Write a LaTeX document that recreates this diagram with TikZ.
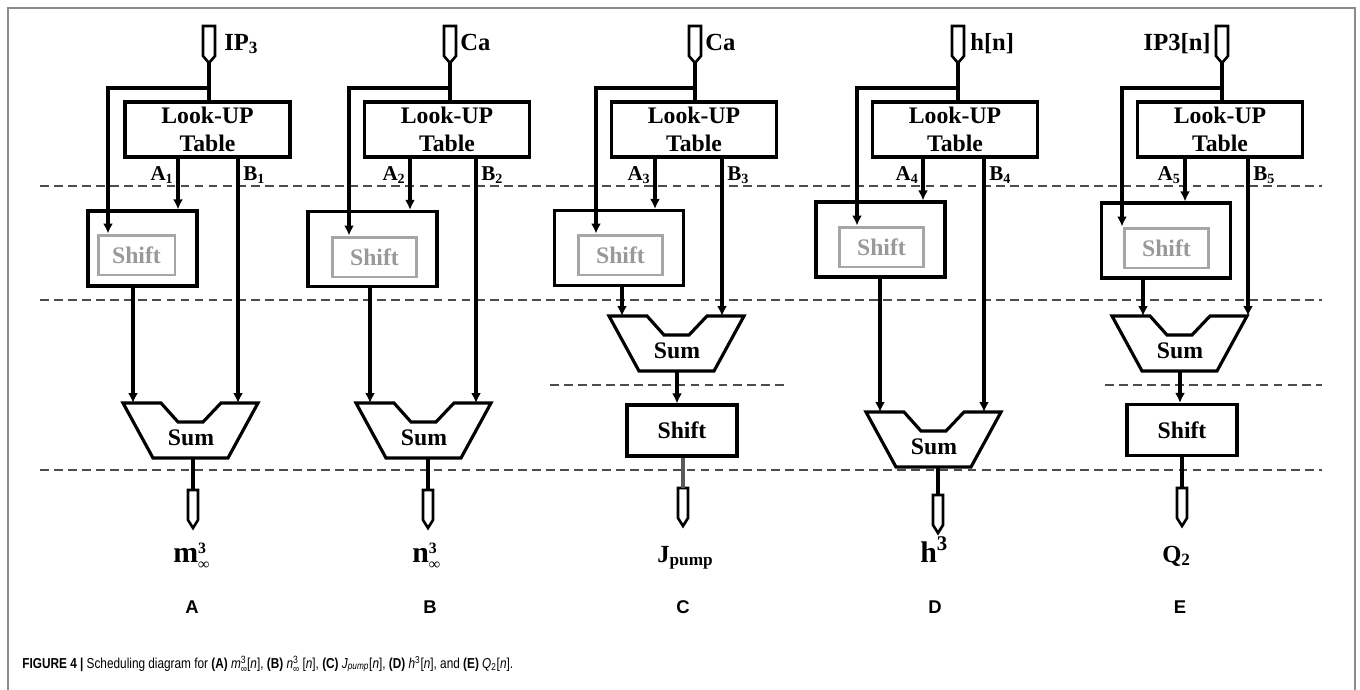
\documentclass[tikz,border=0pt]{standalone}
\usepackage{fontspec}
\setmainfont{Liberation Serif}
\newfontfamily\capfont{Liberation Sans}
\usetikzlibrary{arrows.meta}

\newcommand\boxfont{\bfseries\fontsize{13.5}{16}\selectfont}
\newcommand\tagfont{\bfseries\fontsize{12}{14}\selectfont}
\newcommand\sigfont{\bfseries\fontsize{14}{16}\selectfont}
% stacked 3 over infinity, big label and caption sizes
\newcommand\bigstk{\raisebox{-4.4pt}{\fontsize{9}{9}\selectfont
  \vbox{\offinterlineskip\hbox{3}\kern5pt\hbox{∞}}}}
\newcommand\capstk{\raisebox{-2.6pt}{\fontsize{6}{6}\selectfont
  \vbox{\offinterlineskip\hbox{3}\kern2.2pt\hbox{∞}}}}

\tikzset{
  wire/.style={line width=1.9pt, black},
  arr/.style={wire, -{Latex[length=0.2cm, width=0.2cm]}},
  lut/.style={draw, line width=1.8pt, minimum width=3.3cm, minimum height=1.1cm,
    inner sep=0pt, align=center, font=\boxfont},
  shiftbox/.style={draw, line width=1.8pt, minimum width=2.58cm, minimum height=1.5cm},
  ghostbox/.style={draw=black!35, line width=1.7pt, text=black!40,
    minimum width=1.68cm, minimum height=0.8cm, inner sep=0pt, font=\boxfont},
  lowshift/.style={draw, line width=1.8pt, minimum width=2.2cm, minimum height=1.02cm,
    inner sep=0pt, font=\boxfont},
  cutline/.style={draw=black!70, line width=0.9pt, dash pattern=on 5pt off 3pt},
  frame/.style={draw=black!45, line width=1.1pt},
  tag/.style={inner sep=0pt, font=\tagfont},
  sig/.style={inner sep=0pt, font=\sigfont},
  result/.style={inner sep=0pt, font=\bfseries\fontsize{17}{19}\selectfont},
  panel/.style={inner sep=0pt, font=\capfont\bfseries\fontsize{10.5}{12}\selectfont},
  inpin/.pic={\draw[line width=1.5pt] (-6,0) -- (6,0) -- (6,30) -- (0,37) -- (-6,30) -- cycle;},
  outpin/.pic={\draw[line width=1.5pt] (-5,0) -- (5,0) -- (5,30) -- (0,38) -- (-5,30) -- cycle;},
  adder/.pic={
    \draw[line width=1.8pt] (-68,0) -- (-30,0) -- (-13,19) -- (12,19) -- (30,0) -- (67,0)
      -- (37,55) -- (-38,55) -- cycle;
    \coordinate (-top) at (0,0);
    \coordinate (-bot) at (0,55);
    \node[inner sep=0pt, font=\boxfont] (-lbl) at (0,35) {Sum};
  }
}

\begin{document}
\begin{tikzpicture}[x=0.02cm, y=-0.02cm]
  \useasboundingbox (0,0) rectangle (1360,690);
  \draw[frame] (8,690) -- (8,8) -- (1355,8) -- (1355,690);

  % pipeline stages
  \foreach \y in {186,300,470}
    \draw[cutline] (40,\y) -- (1322,\y);
  \draw[cutline] (550,385) -- (788,385);
  \draw[cutline] (1105,385) -- (1322,385);

  % (A)
  \pic at (209,26) {inpin};
  \coordinate (ina) at (209,63);
  \node[sig, anchor=base west] (siga) at (224,50) {IP\textsubscript{3}};
  \node[lut] (luta) at (207.5,129.5) {Look-UP\\Table};
  \coordinate (bra) at (108,88);
  \node[shiftbox, minimum width=2.18cm] (shfa) at (142.5,248.5) {};
  \node[ghostbox, minimum width=1.54cm] (gsha) at (136.5,255) {Shift};
  \coordinate (axa) at (178,157);
  \coordinate (bxa) at (238,157);
  \coordinate (oxa) at (133,286);
  \node[tag, anchor=base east] (taa) at (174,180) {A\textsubscript{1}};
  \node[tag, anchor=base west] (tba) at (243,180) {B\textsubscript{1}};
  \pic (suma) at (191,403) {adder};
  \pic at (193,490) {outpin};
  \coordinate (outa) at (193,490);
  \node[result, anchor=base west] (resa) at (173,562) {m\bigstk};
  \node[panel] (pa) at (192,607) {A};

  % (B)
  \pic at (450,26) {inpin};
  \coordinate (inb) at (450,63);
  \node[sig, anchor=base west] (sigb) at (460,50) {Ca};
  \node[lut] (lutb) at (447,129.5) {Look-UP\\Table};
  \coordinate (brb) at (349,88);
  \node[shiftbox] (shfb) at (372.5,249) {};
  \node[ghostbox] (gshb) at (374.5,257) {Shift};
  \coordinate (axb) at (410,157);
  \coordinate (bxb) at (476,157);
  \coordinate (oxb) at (370,286);
  \node[tag, anchor=base east] (tab) at (406,180) {A\textsubscript{2}};
  \node[tag, anchor=base west] (tbb) at (481,180) {B\textsubscript{2}};
  \pic (sumb) at (424,403) {adder};
  \pic at (428,490) {outpin};
  \coordinate (outb) at (428,490);
  \node[result, anchor=base west] (resb) at (412,562) {n\bigstk};
  \node[panel] (pb) at (430,607) {B};

  % (C)
  \pic at (695,26) {inpin};
  \coordinate (inc) at (695,63);
  \node[sig, anchor=base west] (sigc) at (705,50) {Ca};
  \node[lut] (lutc) at (694,129.5) {Look-UP\\Table};
  \coordinate (brc) at (596,88);
  \node[shiftbox] (shfc) at (619,248) {};
  \node[ghostbox] (gshc) at (620.5,255) {Shift};
  \coordinate (axc) at (655,157);
  \coordinate (bxc) at (722,157);
  \coordinate (oxc) at (622,285);
  \node[tag, anchor=base east] (tac) at (651,180) {A\textsubscript{3}};
  \node[tag, anchor=base west] (tbc) at (727,180) {B\textsubscript{3}};
  \pic (sumc) at (677,316) {adder};
  \node[lowshift] (lshc) at (682,430.5) {Shift};
  \pic at (683,488) {outpin};
  \coordinate (outc) at (683,488);
  \node[sig, anchor=base west] (resc) at (657,562) {J\textsubscript{pump}};
  \node[panel] (pc) at (683,607) {C};

  % (D)
  \pic at (958,26) {inpin};
  \coordinate (ind) at (958,63);
  \node[sig, anchor=base west] (sigd) at (970,50) {h[n]};
  \node[lut] (lutd) at (955,129.5) {Look-UP\\Table};
  \coordinate (brd) at (857,88);
  \node[shiftbox] (shfd) at (880.5,239.5) {};
  \node[ghostbox] (gshd) at (881.5,247) {Shift};
  \coordinate (axd) at (923,157);
  \coordinate (bxd) at (984,157);
  \coordinate (oxd) at (880,277);
  \node[tag, anchor=base east] (tad) at (919,180) {A\textsubscript{4}};
  \node[tag, anchor=base west] (tbd) at (989,180) {B\textsubscript{4}};
  \pic (sumd) at (934,412) {adder};
  \pic at (938,495) {outpin};
  \coordinate (outd) at (938,495);
  \node[result, anchor=base west] (resd) at (920,562) {h\textsuperscript{3}};
  \node[panel] (pd) at (935,607) {D};

  % (E)
  \pic at (1222,26) {inpin};
  \coordinate (ine) at (1222,63);
  \node[sig, anchor=base east] (sige) at (1211,50) {IP3[n]};
  \node[lut] (lute) at (1220,129.5) {Look-UP\\Table};
  \coordinate (bre) at (1122,88);
  \node[shiftbox] (shfe) at (1166,240.5) {};
  \node[ghostbox] (gshe) at (1166.5,248) {Shift};
  \coordinate (axe) at (1185,157);
  \coordinate (bxe) at (1248,157);
  \coordinate (oxe) at (1143,278);
  \node[tag, anchor=base east] (tae) at (1181,180) {A\textsubscript{5}};
  \node[tag, anchor=base west] (tbe) at (1253,180) {B\textsubscript{5}};
  \pic (sume) at (1180,316) {adder};
  \node[lowshift] (lshe) at (1182,430) {Shift};
  \pic at (1182,488) {outpin};
  \coordinate (oute) at (1182,488);
  \node[sig, anchor=base west] (rese) at (1162,562) {Q\textsubscript{2}};
  \node[panel] (pe) at (1180,607) {E};

  % connections
  \foreach \c in {a,b,c,d,e} {
    \draw[wire] (in\c) -- (in\c |- lut\c.north);
    \draw[arr] (in\c |- br\c) -- (br\c) -- (br\c |- gsh\c.north);
    \draw[arr] (ax\c) -- (ax\c |- shf\c.north);
    \draw[arr] (bx\c) -- (bx\c |- sum\c-top);
    \draw[arr] (ox\c) -- (ox\c |- sum\c-top);
  }
  \foreach \c in {a,b,d}
    \draw[wire] (out\c |- sum\c-bot) -- (out\c);
  \foreach \c in {c,e}
    \draw[arr] (sum\c-bot) -- (sum\c-bot |- lsh\c.north);
  \draw[wire, black!65] (lshc.south -| outc) -- (outc);
  \draw[wire] (lshe.south -| oute) -- (oute);

  % caption
  \node[anchor=base west, inner sep=0pt, font=\capfont\fontsize{8.2}{10}\selectfont] (cap) at (22,668)
    {\scalebox{0.82}[1]{\textbf{FIGURE 4 |} Scheduling diagram for \textbf{(A)} \textit{m}\capstk[\textit{n}],
     \textbf{(B)} \textit{n}\capstk\ [\textit{n}], \textbf{(C)} \textit{J\textsubscript{pump}}[\textit{n}],
     \textbf{(D)} \textit{h}\textsuperscript{3}[\textit{n}], and \textbf{(E)} \textit{Q}\textsubscript{2}[\textit{n}].}};
\end{tikzpicture}
\end{document}
